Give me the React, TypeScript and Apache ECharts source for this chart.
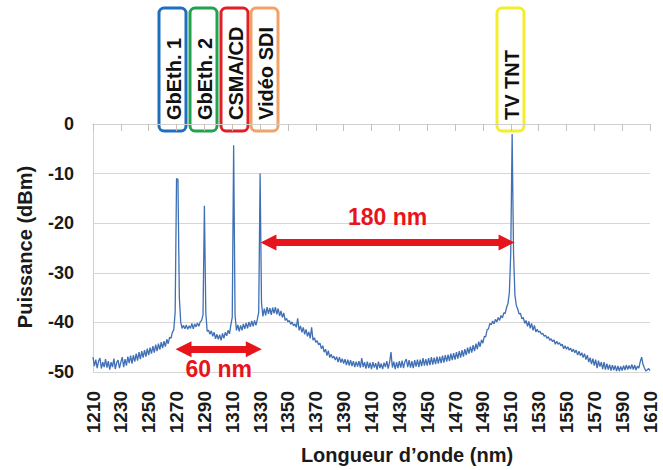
import React, { useEffect, useRef } from "react";
import * as echarts from "echarts";

// Spectrum sampled every 1 nm from 1210 nm
const START_NM = 1210;
const STEP_NM = 1;
const POWER_DBM = [
  // 1210
  -47.0, -48.8, -47.5, -49.2, -47.8, -47.2, -49.3, -48.0, -49.0, -47.4,
  // 1220
  -49.1, -47.8, -49.5, -48.0, -49.0, -47.3, -49.4, -48.1, -47.6, -49.2,
  // 1230
  -48.0, -47.0, -49.0, -47.4, -48.7, -46.9, -48.2, -46.7, -48.3, -46.6,
  // 1240
  -47.9, -46.3, -47.7, -46.0, -47.4, -45.8, -47.1, -45.6, -46.9, -45.3,
  // 1250
  -46.6, -45.1, -46.3, -44.8, -46.1, -44.5, -45.8, -44.3, -45.5, -44.0,
  // 1260
  -45.2, -43.8, -44.9, -43.4, -44.3, -43.0, -43.2, -42.0, -41.5, -38.0,
  // 1270
  -11.0, -11.2, -35.0, -40.0, -41.2, -40.6, -41.3, -40.5, -41.4, -40.7,
  // 1280
  -41.2, -40.2, -41.3, -40.3, -40.9, -40.1, -40.8, -39.9, -39.6, -38.5,
  // 1290
  -16.5, -38.0, -41.8, -41.6, -42.4, -41.7, -42.8, -42.0, -43.3, -42.4,
  // 1300
  -43.4, -42.5, -43.6, -42.2, -43.2, -42.0, -42.7, -41.6, -42.3, -40.5,
  // 1310
  -39.0, -4.3, -38.5, -41.6, -40.5, -41.8, -40.6, -41.6, -40.3, -41.3,
  // 1320
  -40.1, -41.2, -39.9, -40.9, -39.7, -40.8, -39.6, -40.6, -39.4, -38.0,
  // 1330
  -10.0, -36.0, -38.8, -37.2, -38.6, -36.9, -38.3, -37.1, -38.5, -37.0,
  // 1340
  -38.2, -36.9, -38.4, -37.2, -38.7, -37.7, -39.0, -38.1, -39.6, -39.2,
  // 1350
  -39.9, -39.6, -40.4, -39.9, -40.7, -40.3, -41.0, -39.2, -41.6, -40.7,
  // 1360
  -42.0, -41.0, -42.4, -41.4, -42.8, -41.9, -43.2, -41.0, -43.6, -43.1,
  // 1370
  -44.0, -43.7, -44.5, -44.2, -45.3, -44.7, -46.0, -45.4, -46.7, -45.7,
  // 1380
  -47.1, -46.4, -47.2, -46.8, -47.6, -46.9, -48.0, -47.0, -48.1, -47.3,
  // 1390
  -48.3, -47.4, -48.6, -47.5, -48.7, -47.6, -48.8, -47.8, -49.0, -47.9,
  // 1400
  -48.9, -47.8, -49.1, -47.2, -49.0, -48.0, -49.3, -47.9, -49.2, -48.1,
  // 1410
  -49.4, -48.0, -49.1, -48.2, -49.5, -47.9, -49.2, -48.3, -49.4, -48.1,
  // 1420
  -49.0, -47.8, -49.3, -48.0, -46.0, -49.1, -47.9, -49.4, -48.0, -49.2,
  // 1430
  -47.8, -49.1, -47.7, -49.2, -47.9, -47.4, -49.0, -47.6, -49.1, -47.8,
  // 1440
  -49.2, -47.6, -48.9, -47.5, -49.0, -47.5, -48.8, -47.2, -48.7, -47.4,
  // 1450
  -48.7, -47.2, -48.6, -47.0, -48.5, -47.1, -48.4, -46.9, -48.3, -46.9,
  // 1460
  -48.2, -46.7, -48.1, -46.6, -47.9, -46.5, -47.8, -46.3, -47.6, -46.2,
  // 1470
  -47.5, -46.0, -47.3, -45.8, -47.1, -45.6, -46.9, -45.4, -46.6, -45.1,
  // 1480
  -46.3, -44.9, -46.1, -44.6, -45.8, -44.3, -45.4, -43.9, -44.9, -43.5,
  // 1490
  -44.2, -42.8, -42.9, -41.5, -41.3, -40.2, -40.5, -39.7, -40.3, -39.4,
  // 1500
  -39.9, -39.0, -39.6, -38.6, -39.1, -38.1, -38.2, -37.0, -36.2, -34.0,
  // 1510
  -26.0, -2.0, -26.0, -34.5, -36.6, -37.3, -38.3, -38.2, -39.3, -39.0,
  // 1520
  -40.2, -39.6, -40.8, -39.8, -41.2, -40.2, -41.6, -40.6, -41.9, -41.4,
  // 1530
  -42.0, -41.8, -42.4, -42.2, -42.8, -42.6, -43.2, -42.9, -43.6, -43.3,
  // 1540
  -43.9, -43.5, -44.4, -43.8, -44.4, -44.1, -44.7, -44.4, -45.3, -44.7,
  // 1550
  -45.4, -44.9, -45.6, -45.2, -45.9, -45.4, -46.1, -45.6, -46.6, -45.8,
  // 1560
  -46.7, -46.1, -47.1, -46.3, -47.5, -46.6, -48.0, -47.1, -48.4, -47.3,
  // 1570
  -48.7, -47.5, -49.2, -47.7, -48.9, -48.0, -49.4, -48.0, -49.5, -48.3,
  // 1580
  -49.5, -48.5, -49.7, -48.6, -49.6, -48.7, -49.8, -48.8, -49.8, -48.9,
  // 1590
  -49.7, -48.7, -49.6, -48.6, -49.5, -48.7, -49.4, -48.5, -49.5, -48.6,
  // 1600
  -49.6, -48.8, -49.2, -47.9, -47.0, -48.5, -49.2, -49.8, -49.6, -49.3,
  // 1610
  -49.7,
];

const X_MIN = 1210;
const X_MAX = 1610;
const X_STEP = 20;
const Y_MIN = -50;
const Y_MAX = 0;
const Y_STEP = 10;

// Channel tags (label, frame colour)
const CHANNEL_LABELS = ["GbEth. 1", "GbEth. 2", "CSMA/CD", "Vidéo SDI", "TV TNT"];
const CHANNEL_COLORS = ["#1f6fbf", "#22a24e", "#e01f26", "#f2a266", "#f2ee2c"];
const CHANNEL_BOX_X = [159, 190, 221, 251, 497];

// Spacing arrows: [from nm, to nm, level dBm, text]
const SPANS: [number, number, number, string][] = [
  [1336, 1507, -23.9, "180 nm"],
  [1275, 1325.5, -45.4, "60 nm"],
];

const FONT = "'Liberation Sans', Arial, sans-serif";
const RED = "#e8141c";

export default function App() {
  const ref = useRef<HTMLDivElement>(null);

  useEffect(() => {
    if (!ref.current) return;
    const chart = echarts.init(ref.current, null, { renderer: "svg" });

    const data = POWER_DBM.map((p, i) => [START_NM + i * STEP_NM, p]);

    const boxW = 27;
    const boxTop = 8;
    const boxH = 123;
    const graphics: any[] = [];
    CHANNEL_LABELS.forEach((label, i) => {
      const x = CHANNEL_BOX_X[i];
      graphics.push({
        type: "group",
        z: 100,
        children: [
          {
            type: "rect",
            shape: { x, y: boxTop, width: boxW, height: boxH, r: 5 },
            style: { fill: "#ffffff", stroke: CHANNEL_COLORS[i], lineWidth: 3 },
          },
          {
            type: "text",
            x: x + boxW / 2 + 1,
            y: boxTop + boxH - 11,
            rotation: Math.PI / 2,
            style: {
              text: label,
              fill: "#111111",
              font: `bold 20px ${FONT}`,
              align: "left",
              verticalAlign: "middle",
            },
          },
        ],
      });
    });
    graphics.push({
      type: "text",
      x: 25,
      y: 247,
      rotation: Math.PI / 2,
      z: 100,
      style: {
        text: "Puissance (dBm)",
        fill: "#1a1a1a",
        font: `bold 20px ${FONT}`,
        align: "center",
        verticalAlign: "middle",
      },
    });
    graphics.push({
      type: "text",
      x: 407,
      y: 455,
      z: 100,
      style: {
        text: "Longueur d’onde (nm)",
        fill: "#1a1a1a",
        font: `bold 20px ${FONT}`,
        align: "center",
        verticalAlign: "middle",
      },
    });

    const markData = SPANS.map(([a, b, y, text], i) => [
      {
        coord: [a, y],
        label: {
          show: true,
          formatter: text,
          position: i === 0 ? "middle" : "insideMiddleBottom",
          distance: i === 0 ? 14 : 8,
          color: RED,
          fontFamily: FONT,
          fontWeight: "bold",
          fontSize: 23,
        },
      },
      { coord: [b, y] },
    ]);

    chart.setOption({
      animation: false,
      backgroundColor: "#ffffff",
      grid: {
        left: 93,
        right: 13,
        top: 124,
        bottom: 98,
        containLabel: false,
        outerBoundsMode: "none",
      } as any,
      xAxis: {
        type: "value",
        min: X_MIN,
        max: X_MAX,
        interval: X_STEP,
        axisLine: { show: true, lineStyle: { color: "#d0d0d0", width: 1 } },
        axisTick: { show: true, length: 7, lineStyle: { color: "#c8c0b0" } },
        splitLine: { show: false },
        axisLabel: {
          rotate: 90,
          margin: 19,
          color: "#1a1a1a",
          fontFamily: FONT,
          fontWeight: "bold",
          fontSize: 19,
          showMinLabel: true,
          showMaxLabel: true,
          formatter: (v: number) => String(v),
        },
      },
      yAxis: {
        type: "value",
        min: Y_MIN,
        max: Y_MAX,
        interval: Y_STEP,
        axisLine: { show: true, lineStyle: { color: "#d0d0d0", width: 1 } },
        axisTick: { show: false },
        splitLine: { show: true, lineStyle: { color: "#d6d6d6", width: 1 } },
        axisLabel: {
          margin: 19,
          color: "#1a1a1a",
          fontFamily: FONT,
          fontWeight: "bold",
          fontSize: 18,
        },
      },
      graphic: graphics,
      series: [
        {
          type: "line",
          data,
          showSymbol: false,
          symbol: "none",
          lineStyle: { color: "#3f6fb4", width: 1.3 },
          z: 3,
          markLine: {
            silent: true,
            animation: false,
            symbol: ["triangle", "triangle"],
            symbolSize: 16,
            lineStyle: { color: RED, width: 7, type: "solid" },
            itemStyle: { color: RED },
            emphasis: { disabled: true },
            data: markData,
          },
        },
      ],
    });

    return () => chart.dispose();
  }, []);

  return (
    <div
      ref={ref}
      style={{ position: "fixed", left: 0, top: 0, width: 663, height: 470 }}
    />
  );
}
